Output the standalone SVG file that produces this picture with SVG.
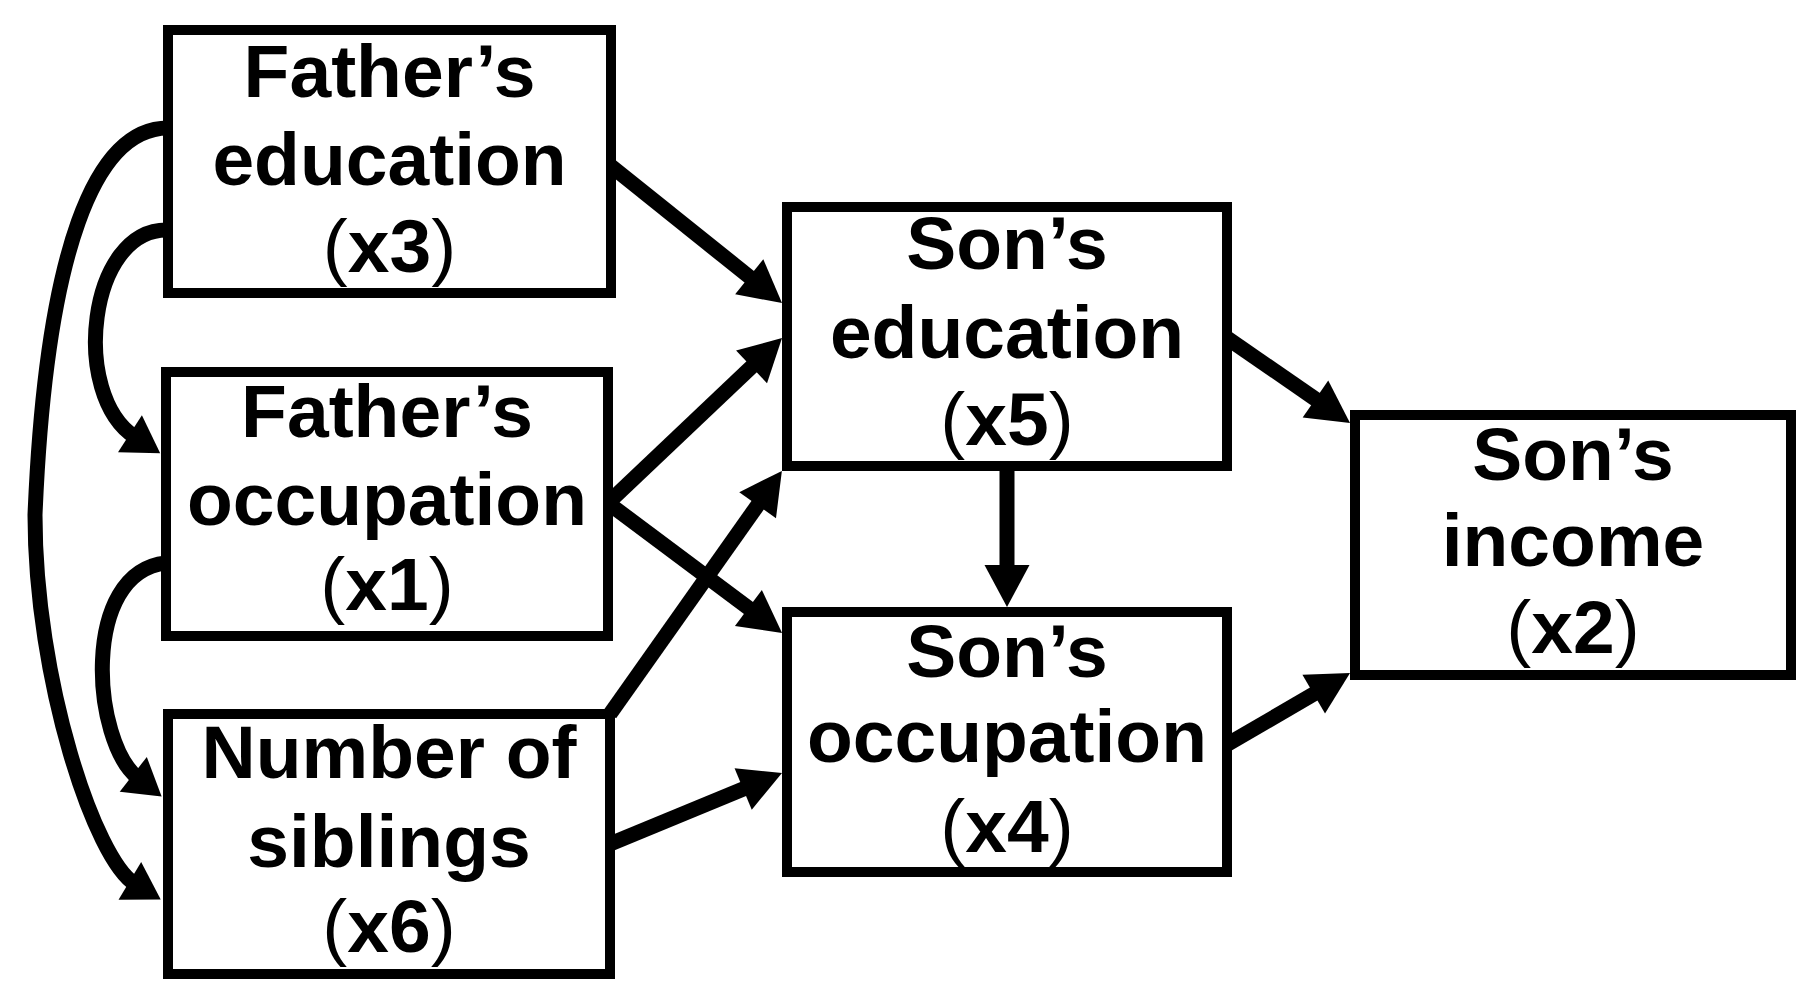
<svg xmlns="http://www.w3.org/2000/svg" width="1796" height="982" viewBox="0 0 1796 982">
<style>
.box{fill:#fff;stroke:#000;stroke-width:10}
.lbl{font-family:"Liberation Sans",Arial,sans-serif;font-weight:bold;font-size:75px;fill:#000;text-anchor:middle}
.par{font-weight:normal}
.c{fill:none;stroke:#000;stroke-width:15}
.s{marker-end:url(#ah)}
.k{marker-end:url(#ahc)}
</style>
<defs>
<marker id="ah" markerUnits="userSpaceOnUse" orient="auto" refX="6" refY="0" markerWidth="60" markerHeight="60" viewBox="0 -30 50 60" overflow="visible">
<path d="M0,-22.5 L42,0 L0,22.5 Z" fill="#000"/>
</marker>
<marker id="ahc" markerUnits="userSpaceOnUse" orient="auto" refX="6" refY="0" markerWidth="60" markerHeight="60" viewBox="0 -30 50 60" overflow="visible">
<path d="M0,-22 L36,0 L0,22 Z" fill="#000"/>
</marker>
</defs>
<rect width="1796" height="982" fill="#fff"/>
<g id="connectors">
<path class="c k" d="M168,230 C88,228 70,395 135,437"/>
<path class="c k" d="M166,563 C80,572 92,742 138,778"/>
<path class="c k" d="M168,128 C95,128 46,250 35,515 C35,680 95,860 135,884"/>
<path class="c s" d="M611,166 L753.9,280.5"/>
<path class="c s" d="M608,503 L755.9,362.8"/>
<path class="c s" d="M608,503 L753.2,611.5"/>
<path class="c s" d="M610,714 L761.1,500.3"/>
<path class="c s" d="M610,844 L748.7,786.7"/>
<path class="c s" d="M1007,466 L1007,571"/>
<path class="c s" d="M1227,338 L1320.4,402.5"/>
<path class="c s" d="M1227,744.5 L1318.9,691.1"/>
</g>
<g id="x3">
<rect class="box" x="168" y="30" width="443" height="263"/>
<text class="lbl" x="389.5" y="97">Father’s</text>
<text class="lbl" x="389.5" y="185">education</text>
<text class="lbl" x="389.5" y="272"><tspan class="par">(</tspan>x3<tspan class="par">)</tspan></text>
</g>
<g id="x1">
<rect class="box" x="166" y="372" width="442" height="264"/>
<text class="lbl" x="387" y="437">Father’s</text>
<text class="lbl" x="387" y="525">occupation</text>
<text class="lbl" x="387" y="610"><tspan class="par">(</tspan>x1<tspan class="par">)</tspan></text>
</g>
<g id="x6">
<rect class="box" x="168" y="714" width="442" height="260"/>
<text class="lbl" x="389" y="778">Number of</text>
<text class="lbl" x="389" y="867">siblings</text>
<text class="lbl" x="389" y="952"><tspan class="par">(</tspan>x6<tspan class="par">)</tspan></text>
</g>
<g id="x5">
<rect class="box" x="787" y="207" width="440" height="259"/>
<text class="lbl" x="1007" y="269">Son’s</text>
<text class="lbl" x="1007" y="358">education</text>
<text class="lbl" x="1007" y="445"><tspan class="par">(</tspan>x5<tspan class="par">)</tspan></text>
</g>
<g id="x4">
<rect class="box" x="787" y="612" width="440" height="260"/>
<text class="lbl" x="1007" y="677">Son’s</text>
<text class="lbl" x="1007" y="762">occupation</text>
<text class="lbl" x="1007" y="852"><tspan class="par">(</tspan>x4<tspan class="par">)</tspan></text>
</g>
<g id="x2">
<rect class="box" x="1355" y="415" width="436" height="260"/>
<text class="lbl" x="1573" y="480">Son’s</text>
<text class="lbl" x="1573" y="566">income</text>
<text class="lbl" x="1573" y="653"><tspan class="par">(</tspan>x2<tspan class="par">)</tspan></text>
</g>
</svg>
